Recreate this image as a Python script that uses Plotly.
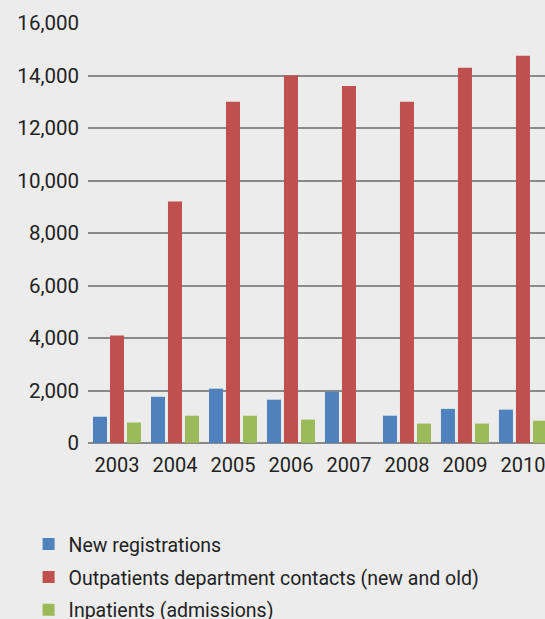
import plotly.graph_objects as go

years = ["2003", "2004", "2005", "2006", "2007", "2008", "2009", "2010"]
new_registrations = [1000, 1760, 2070, 1650, 1950, 1040, 1300, 1270]
outpatients = [4100, 9200, 13000, 14000, 13600, 13000, 14300, 14750]
inpatients = [780, 1040, 1040, 890, 0, 740, 740, 850]

series = [
    ("New registrations", new_registrations, "#4f81bd"),
    ("Outpatients department contacts (new and old)", outpatients, "#c0504d"),
    ("Inpatients (admissions)", inpatients, "#9bbb59"),
]

fig = go.Figure()
for i, (name, vals, col) in enumerate(series):
    fig.add_trace(go.Bar(x=years, y=vals, name=name, marker_color=col,
                         marker_line_width=0, legendgroup=f"g{i}"))

font_family = "Roboto, Noto Sans, sans-serif"
fig.update_layout(
    width=545, height=619,
    margin=dict(l=88, r=0, t=23, b=176, autoexpand=False),
    paper_bgcolor="#ececec", plot_bgcolor="#ececec",
    barmode="group", bargap=0.12, bargroupgap=0.176,
    font=dict(family=font_family, size=20, color="#222222"),
    xaxis=dict(type="category", range=[-0.5, 7.38], showgrid=False,
               showline=False, ticks="", tickfont=dict(size=20),
               tickangle=0, automargin=False, ticklabelstandoff=8),
    yaxis=dict(range=[0, 16000], dtick=2000, tickformat=",", showgrid=True,
               gridcolor="#8a8a8a", gridwidth=2, zeroline=True,
               zerolinecolor="#8a8a8a", zerolinewidth=2.4, ticks="",
               ticklabelstandoff=8, showline=False, automargin=False,
               tickfont=dict(size=20.5)),
    legend=dict(orientation="v", xref="paper", yref="paper",
                x=-0.13, y=-0.195, xanchor="left", yanchor="top",
                traceorder="grouped", tracegroupgap=4.5,
                font=dict(size=19.5), bgcolor="rgba(0,0,0,0)"),
    showlegend=True,
)

fig.write_html(
    "out.html",
    config={"displayModeBar": False},
    post_script="document.body.style.margin='0';document.body.style.overflow='hidden';",
)
